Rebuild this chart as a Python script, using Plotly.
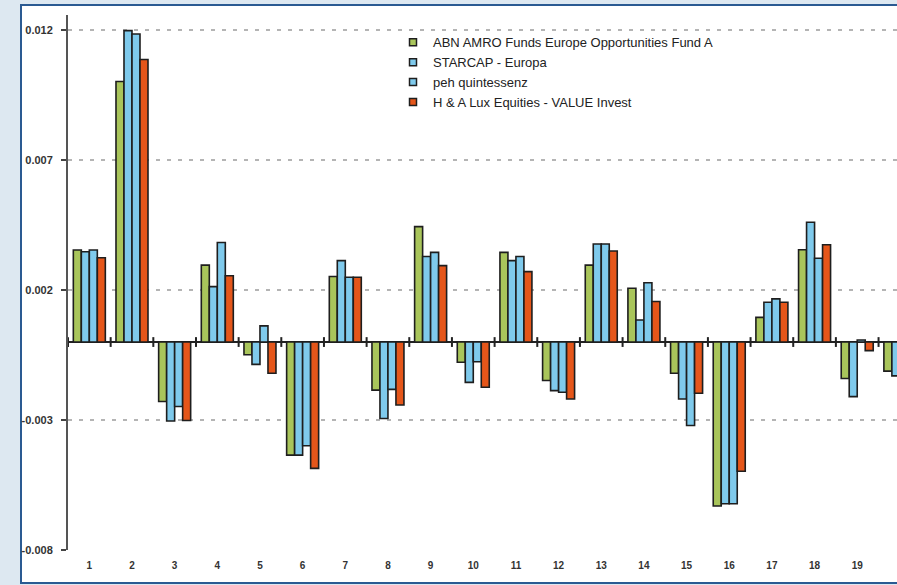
import plotly.graph_objects as go

categories = list(range(1, 21))
x_labels = [str(c) for c in categories]

series_names = [
    "ABN AMRO Funds Europe Opportunities Fund A",
    "STARCAP - Europa",
    "peh quintessenz",
    "H & A Lux Equities - VALUE Invest",
]

abn_amro = [0.00354, 0.01002, -0.00229, 0.00296, -0.00049, -0.00435, 0.00252, -0.00185, 0.00444, -0.00078,
            0.00345, -0.00148, 0.00296, 0.00207, -0.00120, -0.00631, 0.00095, 0.00355, -0.00140, -0.00112]
starcap = [0.00347, 0.01198, -0.00304, 0.00213, -0.00086, -0.00435, 0.00313, -0.00294, 0.00329, -0.00155,
           0.00313, -0.00187, 0.00377, 0.00085, -0.00219, -0.00622, 0.00153, 0.00461, -0.00210, -0.00130]
peh = [0.00354, 0.01185, -0.00248, 0.00383, 0.00062, -0.00399, 0.00249, -0.00182, 0.00345, -0.00076,
       0.00329, -0.00193, 0.00377, 0.00228, -0.00321, -0.00622, 0.00166, 0.00322, 0.00008, None]
ha_lux = [0.00324, 0.01087, -0.00302, 0.00255, -0.00120, -0.00486, 0.00249, -0.00242, 0.00294, -0.00174,
          0.00271, -0.00219, 0.00350, 0.00156, -0.00197, -0.00497, 0.00153, 0.00374, -0.00033, None]

series_values = [abn_amro, starcap, peh, ha_lux]
colors = ["#a9c55b", "#7fcaec", "#7fcaec", "#e5561a"]

y_tickvals = [-0.008, -0.003, 0.002, 0.007, 0.012]
y_ticktext = ["-0.008", "-0.003", "0.002", "0.007", "0.012"]

fig = go.Figure()
for name, vals, col in zip(series_names, series_values, colors):
    fig.add_trace(go.Bar(
        x=categories, y=vals, name=name, showlegend=False, legendgroup=name,
        marker=dict(color=col, line=dict(color="#1e1e1e", width=1.6)),
    ))
for name, col in zip(series_names, colors):
    fig.add_trace(go.Scatter(
        x=[None], y=[None], mode="markers", name=name, legendgroup=name,
        marker=dict(symbol="square", size=7, color=col, line=dict(color="#1e1e1e", width=1.5)),
    ))

# small separator ticks on the zero line, between category groups
fig.add_trace(go.Scatter(
    x=[c - 0.5 for c in categories], y=[0] * len(categories), mode="markers",
    showlegend=False, hoverinfo="skip", cliponaxis=False,
    marker=dict(symbol="line-ns", size=7, line=dict(color="#222222", width=2)),
))

# figure is slightly wider than the window so the last group is cut at the edge, as in the original
fig.update_layout(
    width=905, height=585,
    margin=dict(l=68, r=0, t=15, b=35),
    paper_bgcolor="#dde8f1",
    plot_bgcolor="white",
    barmode="group", bargap=0.25, bargroupgap=0,
    font=dict(family="Liberation Sans, Arial, sans-serif", color="#222222"),
    legend=dict(
        x=0.3883, y=0.977, xanchor="left", yanchor="top",
        bgcolor="rgba(0,0,0,0)", font=dict(size=13, color="#222222"),
        tracegroupgap=0, itemwidth=30,
    ),
    shapes=[dict(
        type="rect", xref="paper", yref="paper",
        x0=-0.05615, x1=1.1, y0=-0.0617, y1=1.0187,
        fillcolor="white", line=dict(color="#2a5a92", width=2), layer="below",
    )],
)

fig.update_xaxes(
    range=[0.5, 20.12], tickvals=categories, ticktext=x_labels,
    showgrid=False, showline=False, zeroline=False, ticks="",
    tickfont=dict(size=10, family="Liberation Sans, Arial, sans-serif", weight="bold", color="#333333"),
    ticklabelstandoff=8,
)
fig.update_yaxes(
    range=[-0.008, 0.01258], tickvals=y_tickvals, ticktext=y_ticktext,
    showgrid=True, gridcolor="#b4b4b4", gridwidth=2, griddash="4px,7px",
    zeroline=True, zerolinecolor="#222222", zerolinewidth=2,
    showline=True, linecolor="#555555", linewidth=2,
    ticks="outside", ticklen=5, tickwidth=2, tickcolor="#444444",
    tickfont=dict(size=11, family="Liberation Sans, Arial, sans-serif", weight="bold", color="#333333"),
    ticklabelstandoff=6,
)

fig.write_html(
    "out.html",
    config={"displayModeBar": False},
    post_script="document.body.style.margin='0';document.body.style.overflow='hidden';",
)
